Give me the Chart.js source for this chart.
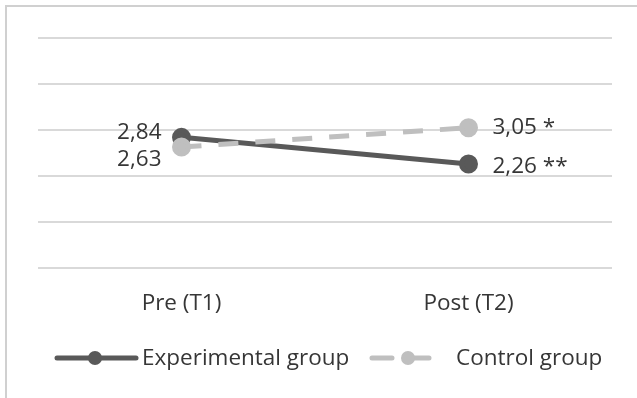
<!DOCTYPE html>
<html>
<head>
<meta charset="utf-8">
<script src="https://cdn.jsdelivr.net/npm/chart.js@4.4.0/dist/chart.umd.min.js"></script>
<style>
  html, body { margin: 0; padding: 0; background: #fff; }
  #wrap { width: 637px; height: 398px; }
</style>
</head>
<body>
<div id="wrap"><canvas id="myChart" width="637" height="398"></canvas></div>
<script>
// data
const xLabels = ['Pre (T1)', 'Post (T2)'];
const experimentalValues = [2.84, 2.26];
const controlValues = [2.63, 3.05];
const experimentalText = ['2,84', '2,26 **'];
const controlText = ['2,63', '3,05 *'];
const seriesNames = ['Experimental group', 'Control group'];

const darkGray = '#595959';
const lightGray = '#bfbfbf';
const textColor = '#363636';
const fontFamily = '"Open Sans", sans-serif';
const fontSize = 22.5;

// frame round the chart (only top and left edges show)
const framePlugin = {
  id: 'frame',
  beforeDraw(chart) {
    const ctx = chart.ctx;
    ctx.save();
    ctx.strokeStyle = '#d0d0d0';
    ctx.lineWidth = 2;
    ctx.beginPath();
    ctx.moveTo(6, 398);
    ctx.lineTo(6, 6);
    ctx.lineTo(637, 6);
    ctx.stroke();
    ctx.restore();
  }
};

// value labels next to the points
const valueLabels = {
  id: 'valueLabels',
  afterDatasetsDraw(chart) {
    const ctx = chart.ctx;
    ctx.save();
    ctx.font = fontSize + 'px ' + fontFamily;
    ctx.fillStyle = textColor;
    ctx.textBaseline = 'middle';
    chart.data.datasets.forEach((ds, i) => {
      const meta = chart.getDatasetMeta(i);
      meta.data.forEach((pt, j) => {
        const txt = ds.valueText[j];
        if (j === 0) {
          ctx.textAlign = 'right';
          ctx.fillText(txt, pt.x - 20, pt.y + (i === 0 ? -5 : 13));
        } else {
          ctx.textAlign = 'left';
          ctx.fillText(txt, pt.x + 24, pt.y + (i === 0 ? 3 : 0));
        }
      });
    });
    ctx.restore();
  }
};

// legend with line + marker sample
const lineLegend = {
  id: 'lineLegend',
  afterDraw(chart) {
    const ctx = chart.ctx;
    const y = 358;
    const items = [
      { x1: 57, x2: 136, dot: 95, tx: 142, ds: chart.data.datasets[0] },
      { x1: 372, x2: 443, dot: 408, tx: 456, ds: chart.data.datasets[1] }
    ];
    ctx.save();
    items.forEach(it => {
      ctx.strokeStyle = it.ds.borderColor;
      ctx.lineWidth = 5;
      ctx.lineCap = 'round';
      ctx.setLineDash(it.ds.borderDash || []);
      ctx.beginPath();
      ctx.moveTo(it.x1, y);
      ctx.lineTo(it.x2, y);
      ctx.stroke();
      ctx.setLineDash([]);
      ctx.fillStyle = it.ds.pointBackgroundColor;
      ctx.beginPath();
      ctx.arc(it.dot, y, 7, 0, Math.PI * 2);
      ctx.fill();
      ctx.font = fontSize + 'px ' + fontFamily;
      ctx.fillStyle = textColor;
      ctx.textAlign = 'left';
      ctx.textBaseline = 'middle';
      ctx.fillText(it.ds.label, it.tx, y + 1);
    });
    ctx.restore();
  }
};

new Chart('myChart', {
  type: 'line',
  data: {
    labels: xLabels,
    datasets: [{
      label: seriesNames[0],
      data: experimentalValues,
      valueText: experimentalText,
      borderColor: darkGray,
      backgroundColor: darkGray,
      pointBackgroundColor: darkGray,
      pointBorderColor: darkGray,
      borderWidth: 5,
      pointRadius: 7,
      borderCapStyle: 'round',
      order: 1
    }, {
      label: seriesNames[1],
      data: controlValues,
      valueText: controlText,
      borderColor: lightGray,
      backgroundColor: lightGray,
      pointBackgroundColor: lightGray,
      pointBorderColor: lightGray,
      borderWidth: 5,
      borderDash: [20, 17],
      pointRadius: 7,
      order: 0
    }]
  },
  options: {
    responsive: false,
    animation: false,
    layout: { padding: { left: 38, right: 25, top: 38, bottom: 70 } },
    plugins: { legend: { display: false }, tooltip: { enabled: false } },
    scales: {
      x: {
        offset: true,
        grid: { display: false },
        border: { display: false },
        ticks: { color: textColor, font: { family: fontFamily, size: fontSize }, padding: 14 },
        afterFit(scale) { scale.height = 60; }
      },
      y: {
        min: 0,
        max: 5,
        ticks: { display: false, stepSize: 1 },
        grid: { color: '#d9d9d9', lineWidth: 2, drawTicks: false },
        border: { display: false }
      }
    }
  },
  plugins: [framePlugin, valueLabels, lineLegend]
});
</script>
</body>
</html>
